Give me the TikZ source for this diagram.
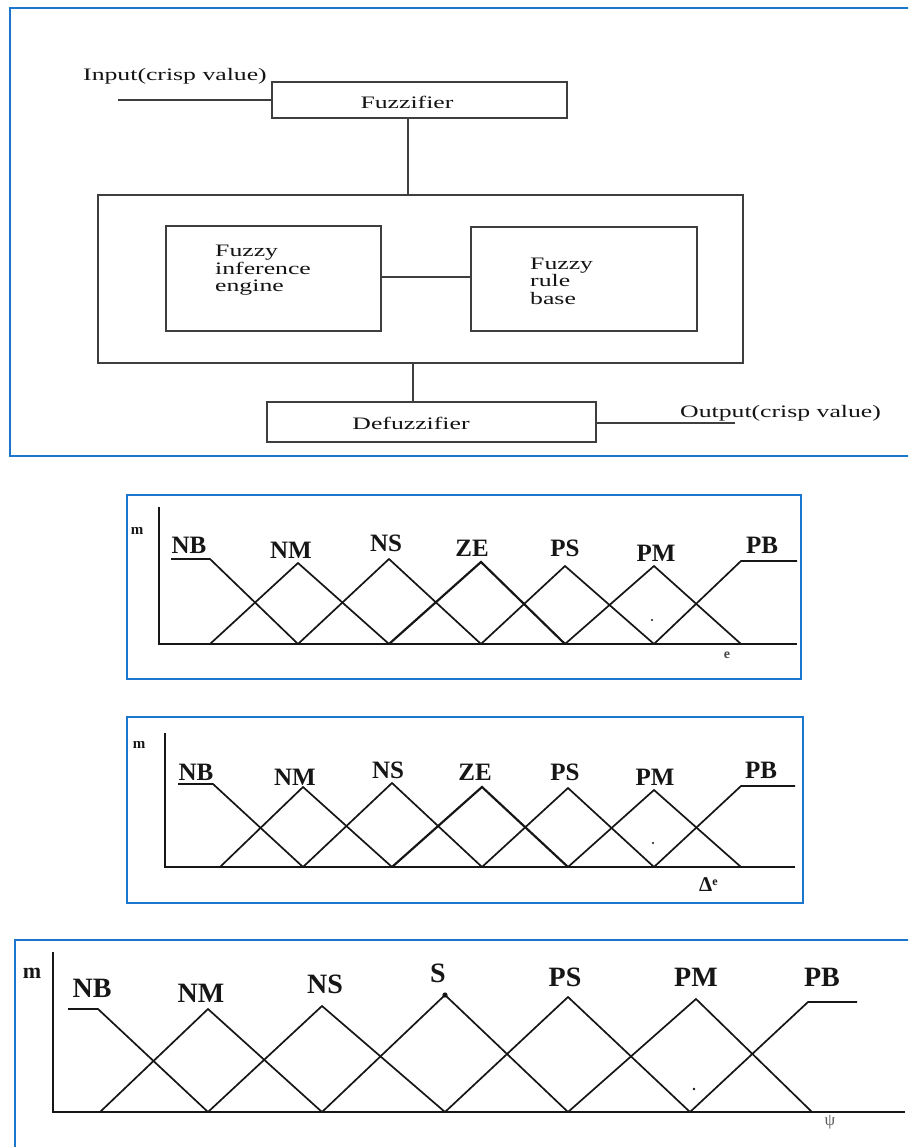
\documentclass[tikz,border=0pt]{standalone}
\usepackage{fontspec}
\setmainfont{Liberation Serif}
% wide serif used for the block diagram texts
\newfontfamily\diagfont[FakeStretch=1.47]{Liberation Serif}
\definecolor{framebl}{RGB}{28,118,204}
\definecolor{ink}{RGB}{62,62,62}
\definecolor{plotink}{RGB}{22,22,22}

\begin{document}
\begin{tikzpicture}[x=1pt,y=-1pt,
  blk/.style={draw=ink,line width=1.3pt,inner sep=0pt,outer sep=0pt},
  wire/.style={draw=ink,line width=1.3pt},
  txt/.style={font=\diagfont\fontsize{17.5}{17.5}\selectfont,inner sep=0pt,text=black!92},
  panelframe/.style={draw=framebl,line width=2.6pt},
  mf/.style={draw=plotink,line width=1.7pt,line join=miter},
  ax/.style={draw=plotink,line width=2.4pt},
  mflbl/.style={font=\bfseries\fontsize{25}{25}\selectfont,inner sep=0pt,text=plotink},
  mflblbig/.style={font=\bfseries\fontsize{28}{28}\selectfont,inner sep=0pt,text=plotink},
  axlbl/.style={font=\bfseries\fontsize{15}{15}\selectfont,inner sep=0pt,text=plotink}]

\useasboundingbox (0,0) rectangle (908,1147);
\fill[white] (0,0) rectangle (908,1147);
\clip (0,0) rectangle (908,1147);

% ---------------- fuzzy controller block diagram ----------------
\draw[panelframe] (10,8) rectangle (930,456);

\node[blk,minimum width=295,minimum height=36] (fuzz) at (419.5,100) {};
\node[blk,minimum width=645,minimum height=168] (core) at (420.5,279) {};
\node[blk,minimum width=215,minimum height=105] (infer) at (273.5,278.5) {};
\node[blk,minimum width=226,minimum height=104] (rules) at (584,279) {};
\node[blk,minimum width=329,minimum height=40] (defuzz) at (431.5,422) {};

\node[txt] (fuzztxt) at (407,102) {Fuzzifier};
\node[txt] (defuzztxt) at (411,423) {Defuzzifier};
\node[txt,align=left,anchor=north west] (infertxt) at (215,245) {Fuzzy\\inference\\engine};
\node[txt,align=left,anchor=north west] (rulestxt) at (530,257.5) {Fuzzy\\rule\\base};
\node[txt,anchor=base west] (intxt) at (83,81) {Input(crisp value)};
\node[txt,anchor=base west] (outtxt) at (680,417) {Output(crisp value)};

\coordinate (inend) at (118,100);
\coordinate (outend) at (735,423);
\coordinate (tapA) at (408,0);
\coordinate (tapB) at (413,0);
\coordinate (linkrow) at (0,277);

\draw[wire] (inend) -- (fuzz.west);
\draw[wire] (fuzz.south -| tapA) -- (core.north -| tapA);
\draw[wire] (infer.east |- linkrow) -- (rules.west |- linkrow);
\draw[wire] (core.south -| tapB) -- (defuzz.north -| tapB);
\draw[wire] (defuzz.east |- outend) -- (outend);

% ---------------- membership functions of e ----------------
\draw[panelframe] (127,495) rectangle (801,679);
\draw[ax] (159,507) -- (159,644) -- (797,644);
\draw[mf] (171,559) -- (210,559) -- (298,644);
\draw[mf] (210,644) -- (298,563) -- (389,644);
\draw[mf] (298,644) -- (389,559) -- (481,644);
\draw[mf,line width=2.2pt] (389,644) -- (481,562) -- (565,644);
\draw[mf] (481,644) -- (565,566) -- (654,644);
\draw[mf] (565,644) -- (654,566) -- (741,644);
\draw[mf] (654,644) -- (741,561) -- (797,561);
\fill[plotink] (652,620) circle (1.2);
\node[axlbl] (m1) at (137,531) {m};
\node[mflbl] (nb1) at (189,545) {NB};
\node[mflbl] (nm1) at (291,550) {NM};
\node[mflbl] (ns1) at (386,543) {NS};
\node[mflbl] (ze1) at (472,548) {ZE};
\node[mflbl] (ps1) at (565,548) {PS};
\node[mflbl] (pm1) at (656,553) {PM};
\node[mflbl] (pb1) at (762,545) {PB};
\node[font=\bfseries\fontsize{14}{14}\selectfont,inner sep=0pt,text=plotink!80] (e1) at (727,655) {e};

% ---------------- membership functions of delta e ----------------
\draw[panelframe] (127,717) rectangle (803,903);
\draw[ax] (165,733) -- (165,867) -- (795,867);
\draw[mf] (178,784) -- (213,784) -- (303,867);
\draw[mf] (220,867) -- (303,787) -- (392,867);
\draw[mf] (303,867) -- (392,783) -- (482,867);
\draw[mf,line width=2.2pt] (392,867) -- (482,787) -- (568,867);
\draw[mf] (482,867) -- (568,788) -- (654,867);
\draw[mf] (568,867) -- (654,790) -- (741,867);
\draw[mf] (654,867) -- (741,786) -- (795,786);
\fill[plotink] (653,843) circle (1.2);
\node[axlbl] (m2) at (139,745) {m};
\node[mflbl] (nb2) at (196,772) {NB};
\node[mflbl] (nm2) at (295,777) {NM};
\node[mflbl] (ns2) at (388,770) {NS};
\node[mflbl] (ze2) at (475,772) {ZE};
\node[mflbl] (ps2) at (565,772) {PS};
\node[mflbl] (pm2) at (655,777) {PM};
\node[mflbl] (pb2) at (761,770) {PB};
\node[inner sep=0pt,text=plotink,anchor=base west] (de2) at (699,891)
  {{\bfseries\fontsize{21}{21}\selectfont Δ}\raisebox{6pt}{\bfseries\fontsize{12}{12}\selectfont e}};

% ---------------- membership functions of the output ----------------
\draw[panelframe] (15,940) rectangle (930,1170);
\draw[ax] (53,952) -- (53,1112) -- (905,1112);
\draw[mf] (68,1009) -- (98,1009) -- (208,1112);
\draw[mf] (100,1112) -- (208,1009) -- (322,1112);
\draw[mf] (208,1112) -- (322,1006) -- (445,1112);
\draw[mf] (322,1112) -- (445,995) -- (568,1112);
\draw[mf] (445,1112) -- (568,997) -- (690,1112);
\draw[mf] (568,1112) -- (696,999) -- (812,1112);
\draw[mf] (690,1112) -- (808,1002) -- (857,1002);
\fill[plotink] (445,995) circle (2.6);
\fill[plotink] (694,1089) circle (1.3);
\node[font=\bfseries\fontsize{22}{22}\selectfont,inner sep=0pt,text=plotink] (m3) at (32,973) {m};
\node[mflblbig] (nb3) at (92,988) {NB};
\node[mflblbig] (nm3) at (201,993) {NM};
\node[mflblbig] (ns3) at (325,984) {NS};
\node[mflblbig] (s3) at (438,973) {S};
\node[mflblbig] (ps3) at (565,977) {PS};
\node[mflblbig] (pm3) at (696,977) {PM};
\node[mflblbig] (pb3) at (822,977) {PB};
\node[font=\fontsize{17}{17}\selectfont,inner sep=0pt,text=plotink!70] (u3) at (830,1122) {ψ};
\end{tikzpicture}
\end{document}
